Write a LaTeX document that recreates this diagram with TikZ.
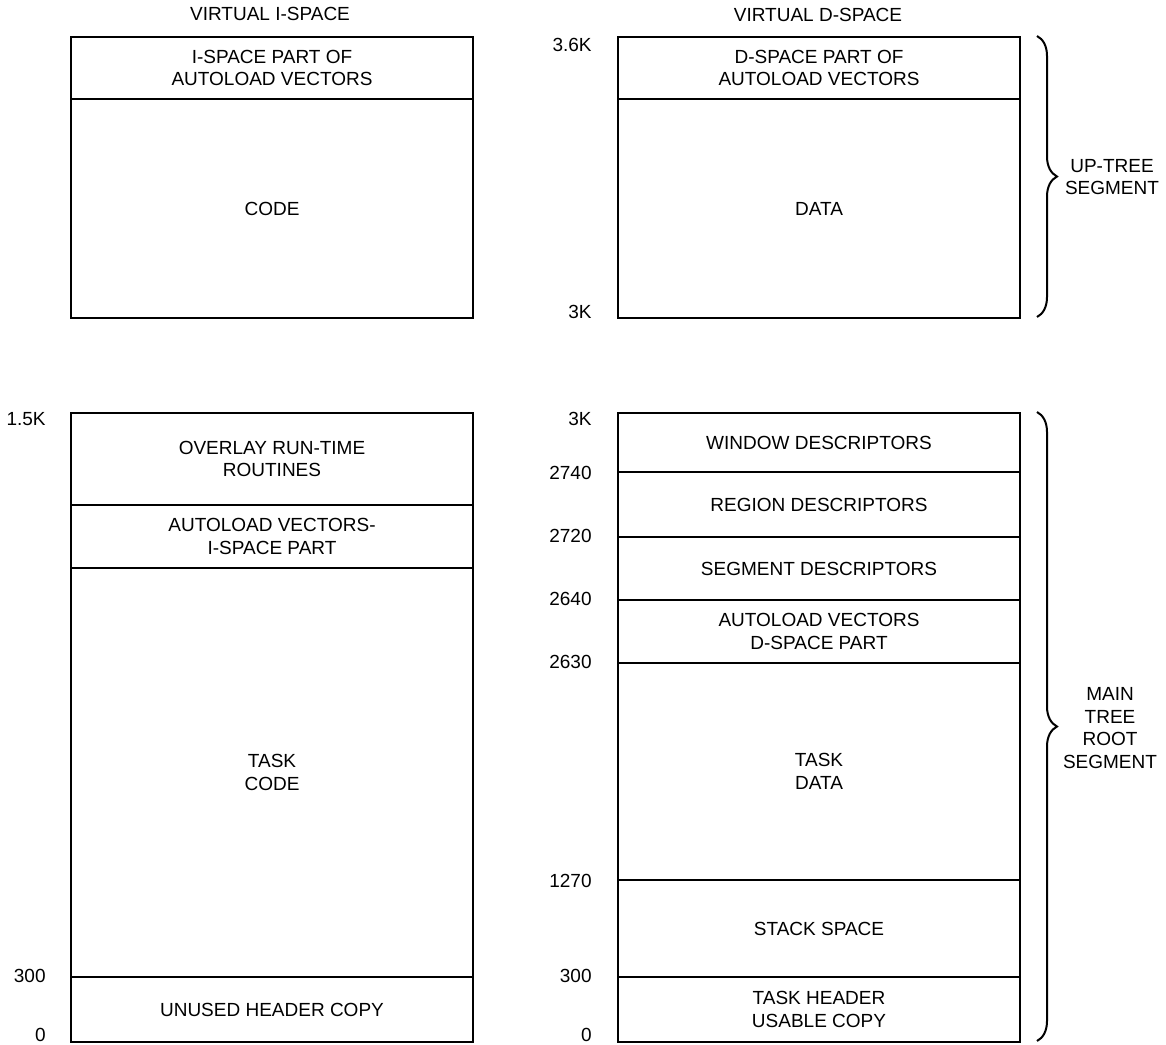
\documentclass[tikz,border=0pt]{standalone}
\usepackage{fontspec}
\setmainfont{Liberation Sans}
\usetikzlibrary{positioning,decorations.pathreplacing}

\begin{document}
\begin{tikzpicture}[x=0.5pt, y=-0.5pt,
  every node/.style={font=\fontsize{9.5}{11.3}\selectfont},
  seg/.style={draw, line width=1pt, inner sep=0pt, align=center, anchor=north west, minimum width=201pt},
  addr/.style={anchor=east, inner sep=0pt},
  brc/.style={decorate, decoration={brace, amplitude=10pt}, line width=1pt},
]
% grid in pixels: 1166 x 1044, y runs down the page
% left column x = 70, right column x = 617, both 402 wide
\useasboundingbox (0,0) rectangle (1166,1044);

\node (ititle) at (270,14) {VIRTUAL I-SPACE};
\node (dtitle) at (818,15) {VIRTUAL D-SPACE};

% segments: name / left / top / bottom / text
\foreach \nm/\xl/\yt/\yb/\txt in {%
  iauto/70/36/98/{I-SPACE PART OF\\AUTOLOAD VECTORS},
  icode/70/98/317/{CODE},
  overlay/70/412/504/{OVERLAY RUN-TIME\\ROUTINES},
  iautovec/70/504/567/{AUTOLOAD VECTORS-\\I-SPACE PART},
  taskcode/70/567/976/{TASK\\CODE},
  unused/70/976/1041/{UNUSED HEADER COPY},
  dauto/617/36/98/{D-SPACE PART OF\\AUTOLOAD VECTORS},
  data/617/98/317/{DATA},
  window/617/412/471/{WINDOW DESCRIPTORS},
  region/617/471/536/{REGION DESCRIPTORS},
  segdesc/617/536/599/{SEGMENT DESCRIPTORS},
  dautovec/617/599/662/{AUTOLOAD VECTORS\\D-SPACE PART},
  taskdata/617/662/879/{TASK\\DATA},
  stack/617/879/976/{STACK SPACE},
  header/617/976/1041/{TASK HEADER\\USABLE COPY}%
} {
  \pgfmathsetmacro{\h}{(\yb-\yt)*0.5}
  \node[seg, minimum height=\h pt] (\nm) at (\xl,\yt) {\txt};
}

% addresses
\foreach \nm/\xr/\y/\txt in {%
  a1/46/419/1.5K, a2/46/976/300, a3/46/1035/0,
  b1/592/45/3.6K, b2/592/312/3K,
  c1/592/419/3K, c2/592/473/2740, c3/592/536/2720, c4/592/599/2640,
  c5/592/662/2630, c6/592/881/1270, c7/592/976/300, c8/592/1035/0%
} {
  \node[addr] (\nm) at (\xr,\y) {\txt};
}

% braces
\coordinate (ubtop) at (1037,36);
\coordinate (ubbot) at (1037,317);
\coordinate (mbtop) at (1037,412);
\coordinate (mbbot) at (1037,1041);
\draw[brc] (ubtop) -- (ubbot);
\draw[brc] (mbtop) -- (mbbot);
\node[align=center] (uptree) at (1112,177) {UP-TREE\\SEGMENT};
\node[align=center] (maintree) at (1110,728) {MAIN\\TREE\\ROOT\\SEGMENT};
\end{tikzpicture}
\end{document}
